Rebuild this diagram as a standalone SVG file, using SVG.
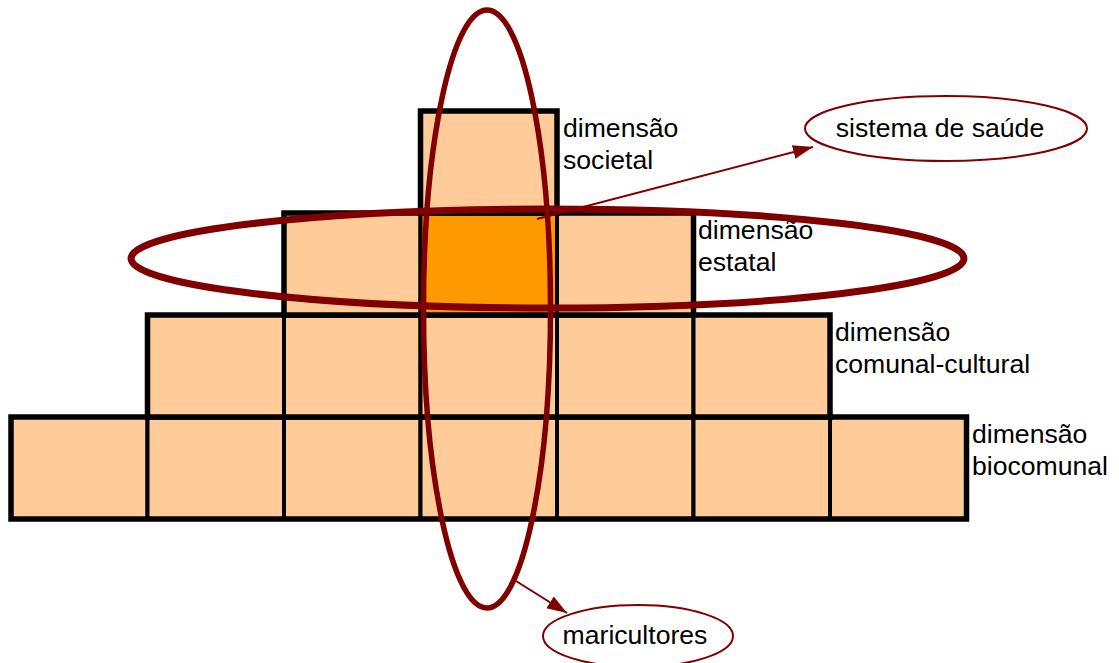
<svg xmlns="http://www.w3.org/2000/svg" width="1119" height="663" viewBox="0 0 1119 663">
  <style>
    .cell { fill: #FFCC99; stroke: #000; stroke-width: 4; }
    .hot { fill: #FF9900; }
    .row { fill: none; stroke: #000; stroke-width: 5.5; }
    .lbl { font-family: "Liberation Sans", Arial, sans-serif; font-size: 26.6px; fill: #000; }
    .ring { fill: none; stroke: #800000; }
    .tag { fill: #fff; stroke: #800000; stroke-width: 2; }
    .conn { stroke: #800000; stroke-width: 2; fill: none; }
  </style>
  <defs>
    <marker id="ah" markerUnits="userSpaceOnUse" markerWidth="22" markerHeight="16" refX="20" refY="7" orient="auto">
      <path d="M0,0 L20,7 L0,14 z" fill="#800000"/>
    </marker>
  </defs>
  <rect width="1119" height="663" fill="#fff"/>

  <g id="dimensao-biocomunal">
    <rect class="cell" x="11" y="417" width="136.5" height="102"/>
    <rect class="cell" x="147.5" y="417" width="136.5" height="102"/>
    <rect class="cell" x="284" y="417" width="136.5" height="102"/>
    <rect class="cell" x="420.5" y="417" width="136.5" height="102"/>
    <rect class="cell" x="557" y="417" width="136.5" height="102"/>
    <rect class="cell" x="693.5" y="417" width="136.5" height="102"/>
    <rect class="cell" x="830" y="417" width="136.5" height="102"/>
    <rect class="row" x="11" y="417" width="955.5" height="102"/>
    <text class="lbl" x="972" y="443">dimensão</text>
    <text class="lbl" x="972" y="475">biocomunal</text>
  </g>

  <g id="dimensao-comunal-cultural">
    <rect class="cell" x="147.5" y="315" width="136.5" height="102"/>
    <rect class="cell" x="284" y="315" width="136.5" height="102"/>
    <rect class="cell" x="420.5" y="315" width="136.5" height="102"/>
    <rect class="cell" x="557" y="315" width="136.5" height="102"/>
    <rect class="cell" x="693.5" y="315" width="136.5" height="102"/>
    <rect class="row" x="147.5" y="315" width="682.5" height="102"/>
    <text class="lbl" x="835" y="341">dimensão</text>
    <text class="lbl" x="835" y="373">comunal-cultural</text>
  </g>

  <g id="dimensao-estatal">
    <rect class="cell" x="284" y="213" width="136.5" height="102"/>
    <rect class="cell hot" x="420.5" y="213" width="136.5" height="102"/>
    <rect class="cell" x="557" y="213" width="136.5" height="102"/>
    <rect class="row" x="284" y="213" width="409.5" height="102"/>
    <text class="lbl" x="698" y="239">dimensão</text>
    <text class="lbl" x="698" y="271">estatal</text>
  </g>

  <g id="dimensao-societal">
    <rect class="cell" x="420.5" y="111" width="136.5" height="102"/>
    <rect class="row" x="420.5" y="111" width="136.5" height="102"/>
    <text class="lbl" x="563" y="137">dimensão</text>
    <text class="lbl" x="563" y="169">societal</text>
  </g>

  <g id="anel-estatal">
    <ellipse class="ring" cx="547.5" cy="258.5" rx="416.5" ry="49.5" stroke-width="7"/>
  </g>

  <g id="anel-maricultores">
    <ellipse class="ring" cx="487" cy="309" rx="63.5" ry="299" stroke-width="5.5"/>
  </g>

  <g id="sistema-de-saude">
    <ellipse class="tag" cx="946" cy="128.5" rx="141" ry="32.5"/>
    <text class="lbl" x="940" y="137" text-anchor="middle">sistema de saúde</text>
  </g>

  <g id="maricultores">
    <ellipse class="tag" cx="638" cy="636" rx="95" ry="31"/>
    <text class="lbl" x="635" y="644" text-anchor="middle">maricultores</text>
  </g>

  <g id="connectors">
    <line class="conn" x1="537" y1="219" x2="813" y2="147" marker-end="url(#ah)"/>
    <line class="conn" x1="516" y1="581" x2="567" y2="613" marker-end="url(#ah)"/>
  </g>
</svg>
